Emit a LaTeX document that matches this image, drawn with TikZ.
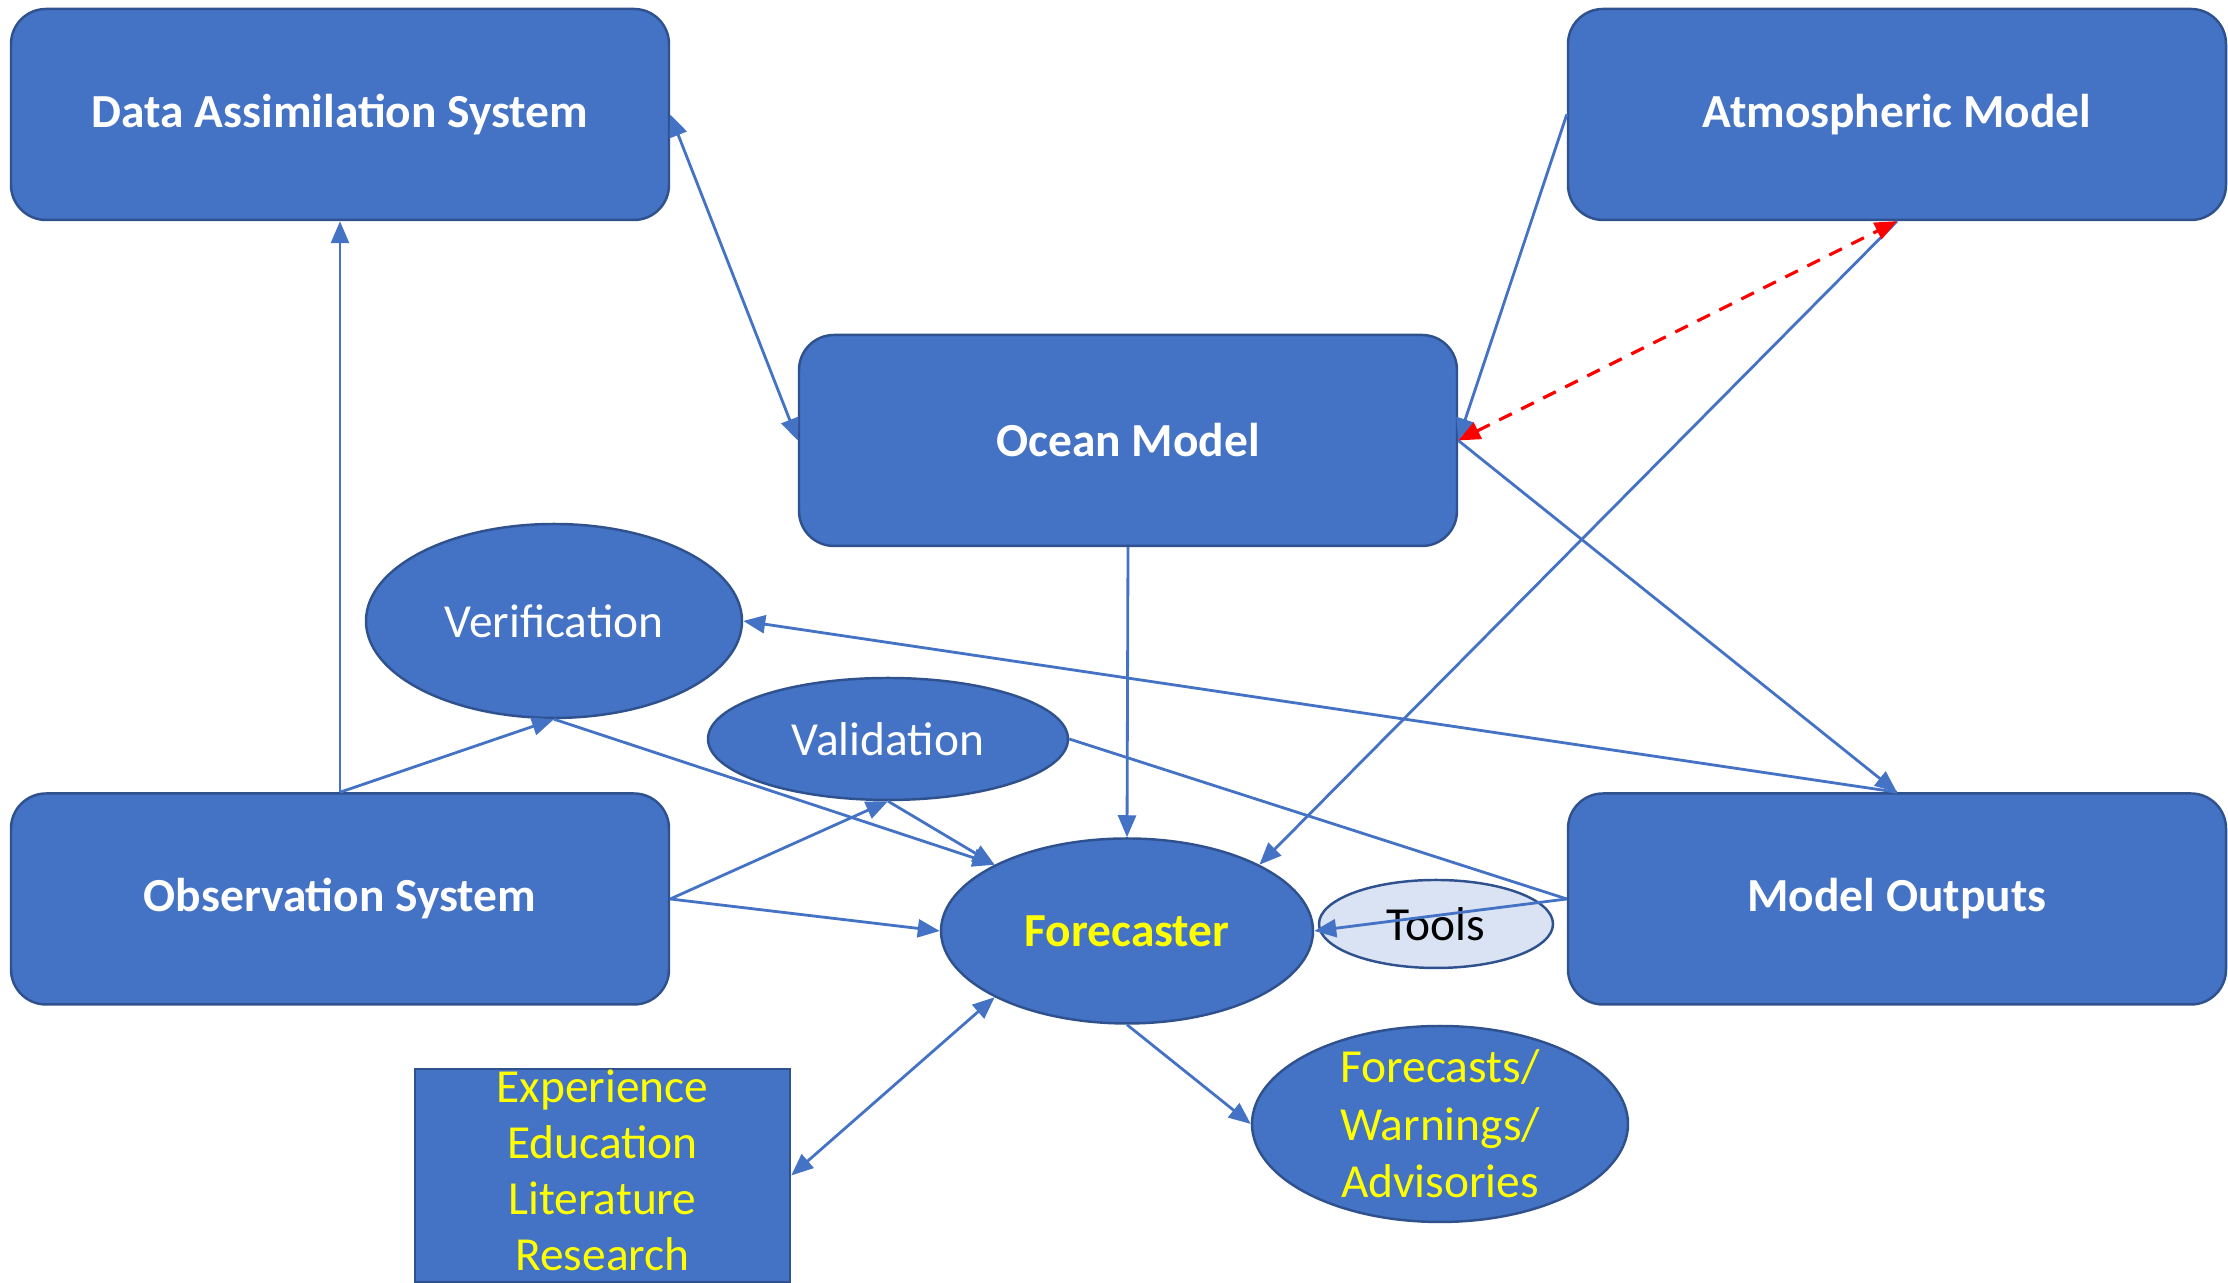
\documentclass[tikz,border=0pt]{standalone}
\usepackage{fontspec}
\setmainfont{Carlito}
\usetikzlibrary{shapes.geometric,arrows.meta}
\definecolor{azul}{HTML}{4472C4}
\definecolor{borde}{HTML}{2F528F}
\definecolor{claro}{HTML}{DAE3F3}
\definecolor{amarillo}{HTML}{FFFF00}
\tikzset{
  caja/.style={draw=borde, line width=0.7pt, fill=azul, rounded corners=0.35cm, minimum width=6.58cm, minimum height=2.11cm, text=white, font=\fontsize{13.5}{16}\selectfont\bfseries},
  elipse/.style={ellipse, draw=borde, line width=0.7pt, fill=azul, inner sep=0pt, text=white, font=\fontsize{13.5}{16}\selectfont},
  flecha/.style={azul, line width=0.8pt},
  texto/.style={text=amarillo, align=center, font=\fontsize{13.5}{16.3}\selectfont}
}
\begin{document}
\begin{tikzpicture}[>={Triangle[length=2.2mm,width=1.8mm]}]
            \useasboundingbox (0,0) rectangle (22.28,12.83); % Tamaño del dibujo

            % Cajas principales
            \node[caja] (das) at (3.40,11.685) {Data Assimilation System}; % Sistema de asimilación
            \node[caja] (atm) at (18.97,11.685) {Atmospheric Model}; % Modelo atmosférico
            \node[caja] (ocean) at (11.28,8.425) {Ocean Model}; % Modelo oceánico
            \node[caja] (obs) at (3.40,3.84) {Observation System}; % Sistema de observación
            \node[caja] (out) at (18.97,3.84) {Model Outputs}; % Salidas del modelo

            % Elipses
            \node[elipse, minimum width=3.76cm, minimum height=1.94cm] (verif) at (5.54,6.62) {Verification};
            \node[elipse, minimum width=3.60cm, minimum height=1.22cm] (valid) at (8.88,5.44) {Validation};
            \node[elipse, minimum width=3.72cm, minimum height=1.85cm, text=amarillo, font=\fontsize{13.5}{16}\selectfont\bfseries] (fc) at (11.27,3.52) {Forecaster};
            \node[elipse, fill=claro, text=black, minimum width=2.34cm, minimum height=0.88cm] (tools) at (14.36,3.59) {Tools};
            \node[elipse, minimum width=3.76cm, minimum height=1.96cm] (fwa) at (14.40,1.59) {};
            \node[texto] (fwatxt) at (fwa.center) {Forecasts/\\Warnings/\\Advisories};

            % Caja de experiencia
            \node[draw=borde, fill=azul, line width=0.7pt, minimum width=3.75cm, minimum height=2.13cm] (exp) at (6.025,1.075) {};
            \node[texto, inner sep=0pt, font=\fontsize{13.5}{15.9}\selectfont] (exptxt) at ([yshift=0.5mm]exp.center) {Experience\\Education\\Literature\\Research};

            % Flechas
            \draw[flecha,<->] (das.east) -- (ocean.west);
            \draw[flecha,->] (atm.west) -- (ocean.east);
            \draw[flecha,->] (ocean.east) -- (out.north);
            \draw[flecha,->] (atm.south) -- (fc.north east);
            \draw[flecha,->] (ocean.south) -- (fc.north);
            \draw[flecha,->] (out.north) -- (verif.east);
            \draw[flecha,->] (obs.north) -- (das.south);
            \draw[flecha,->] (obs.north) -- (verif.south);
            \draw[flecha,->] (verif.south) -- (fc.north west);
            \draw[flecha,->] (obs.east) -- (valid.south);
            \draw[flecha,->] (obs.east) -- (fc.west);
            \draw[flecha,->] (valid.south) -- (fc.north west);
            \draw[flecha] (out.west) -- (valid.east); % Sin punta
            \draw[flecha,->] (out.west) -- (fc.east); % Pasa sobre Tools
            \draw[flecha,->] (fc.south) -- (fwa.west);
            \draw[flecha,<->] (exp.east) -- (fc.south west);

            % Acoplamiento océano-atmósfera
            \draw[red, line width=0.9pt, dash pattern=on 4pt off 3pt, <->] (ocean.east) -- (atm.south);
\end{tikzpicture}
\end{document}
